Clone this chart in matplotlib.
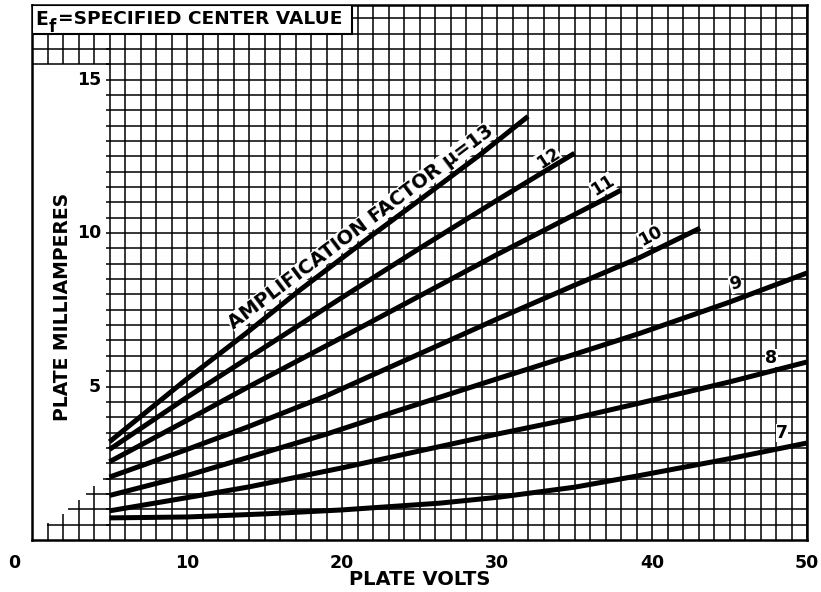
import numpy as np
import matplotlib.pyplot as plt

# plate volts vs plate milliamperes, one curve per mu
mu_values = [13, 12, 11, 10, 9, 8, 7]

volts_13 = [5, 10, 13.9, 17.3, 22, 26, 28.9, 32]
ma_13 = [3.2, 5.25, 6.77, 8.15, 9.95, 11.45, 12.55, 13.8]

volts_12 = [5, 10, 14, 20, 25, 30, 35]
ma_12 = [2.95, 4.65, 5.95, 7.9, 9.5, 11.07, 12.6]

volts_11 = [5, 10, 14, 20, 26.3, 30, 36.8, 38]
ma_11 = [2.55, 3.9, 5.0, 6.6, 8.3, 9.3, 11.07, 11.4]

volts_10 = [5, 10, 14, 19, 23.7, 30, 35, 39.2, 43.1]
ma_10 = [2.05, 2.95, 3.7, 4.7, 5.77, 7.2, 8.3, 9.2, 10.16]

volts_9 = [5, 10, 14, 19, 23.7, 30, 35, 39.2, 45, 50]
ma_9 = [1.45, 2.1, 2.7, 3.45, 4.23, 5.25, 6.05, 6.73, 7.75, 8.7]

volts_8 = [5, 10, 14, 20, 25.9, 30, 35, 39.2, 45, 50]
ma_8 = [0.95, 1.38, 1.73, 2.35, 3.0, 3.45, 3.97, 4.46, 5.15, 5.8]

volts_7 = [5, 10, 15, 20, 26.3, 30.2, 35, 39.2, 45, 50]
ma_7 = [0.72, 0.75, 0.85, 0.98, 1.2, 1.4, 1.72, 2.1, 2.65, 3.16]

curves = [(volts_13, ma_13), (volts_12, ma_12), (volts_11, ma_11), (volts_10, ma_10),
          (volts_9, ma_9), (volts_8, ma_8), (volts_7, ma_7)]

x_tick_values = [0, 10, 20, 30, 40, 50]
y_tick_values = [5, 10, 15]

X_MAX = 50
Y_MAX = 17.43
GRID_LW = 1.1

fig = plt.figure(figsize=(8.21, 5.92), dpi=100)
ax = fig.add_axes([32 / 821, 52 / 592, 775 / 821, 535 / 592])
ax.set_xlim(0, X_MAX)
ax.set_ylim(0, Y_MAX)
ax.set_xticks([])
ax.set_yticks([])
for sp in ax.spines.values():
    sp.set_linewidth(1.8)
    sp.set_color('black')

# main grid: 1 volt by 0.5 mA, starting at 5 volts
ax.vlines(np.arange(5, 51, 1), 0, Y_MAX, color='black', lw=GRID_LW, zorder=1)
ax.hlines(np.arange(0.5, 17.01, 0.5), 4.8, X_MAX, color='black', lw=GRID_LW, zorder=1)

# grid band above the 15 label runs all the way to the left edge
ax.hlines([15.5, 16.0, 16.5, 17.0], 0, 5, color='black', lw=GRID_LW, zorder=1)
ax.vlines([1, 2, 3, 4], 15.5, Y_MAX, color='black', lw=GRID_LW, zorder=1)

# staircase of grid in the bottom left corner
ax.vlines([1, 2, 3, 4], 0, [0.55, 0.85, 1.3, 1.75], color='black', lw=GRID_LW, zorder=1)
ax.hlines([0.5, 1.0, 1.5, 2.0], [0.95, 2.3, 3.5, 4.6], 5, color='black', lw=GRID_LW, zorder=1)

for v, ma in curves:
    ax.plot(v, ma, color='black', lw=3.6, solid_capstyle='butt', zorder=3)

# header box
ax.add_patch(plt.Rectangle((0, 16.5), 20.65, Y_MAX - 16.5, facecolor='white',
                           edgecolor='black', lw=1.5, zorder=4))
ax.text(0.22, 16.97, 'E', fontsize=13.5, fontweight='bold', ha='left', va='center', zorder=5)
ax.text(1.05, 16.7, 'f', fontsize=12, fontweight='bold', ha='left', va='center', zorder=5)
ax.text(1.68, 16.97, '=SPECIFIED CENTER VALUE', fontsize=13.3, fontweight='bold',
        ha='left', va='center', zorder=5)

# tick labels
for xv in x_tick_values:
    xpos = -1.15 if xv == 0 else xv
    ax.text(xpos, -0.75, str(xv), fontsize=12.5, fontweight='bold', ha='center', va='center',
            clip_on=False)
for yv in y_tick_values:
    ax.text(4.45, yv, str(yv), fontsize=12.5, fontweight='bold', ha='right', va='center')

ax.text(25, -1.3, 'PLATE VOLTS', fontsize=14, fontweight='bold', ha='center', va='center',
        clip_on=False)
ax.text(1.95, 7.6, 'PLATE MILLIAMPERES', fontsize=13.5, fontweight='bold', rotation=90,
        ha='center', va='center')

# curve labels
ax.text(21.2, 10.2, 'AMPLIFICATION FACTOR \u03bc=13', fontsize=14, fontweight='bold',
        rotation=37, ha='center', va='center', zorder=2,
        bbox=dict(facecolor='white', edgecolor='none', pad=0.1))
label_pos = {12: (33.3, 12.45, 33), 11: (36.8, 11.55, 32), 10: (39.9, 9.9, 28),
             9: (45.4, 8.34, 15), 8: (47.7, 5.93, 0), 7: (48.4, 3.48, 0)}
for mu in mu_values[1:]:
    lx, ly, rot = label_pos[mu]
    ax.text(lx, ly, str(mu), fontsize=12.5, fontweight='bold', rotation=rot, ha='center',
            va='center', zorder=2, bbox=dict(facecolor='white', edgecolor='none', pad=0.1))

fig.savefig('out.png', dpi=100)
